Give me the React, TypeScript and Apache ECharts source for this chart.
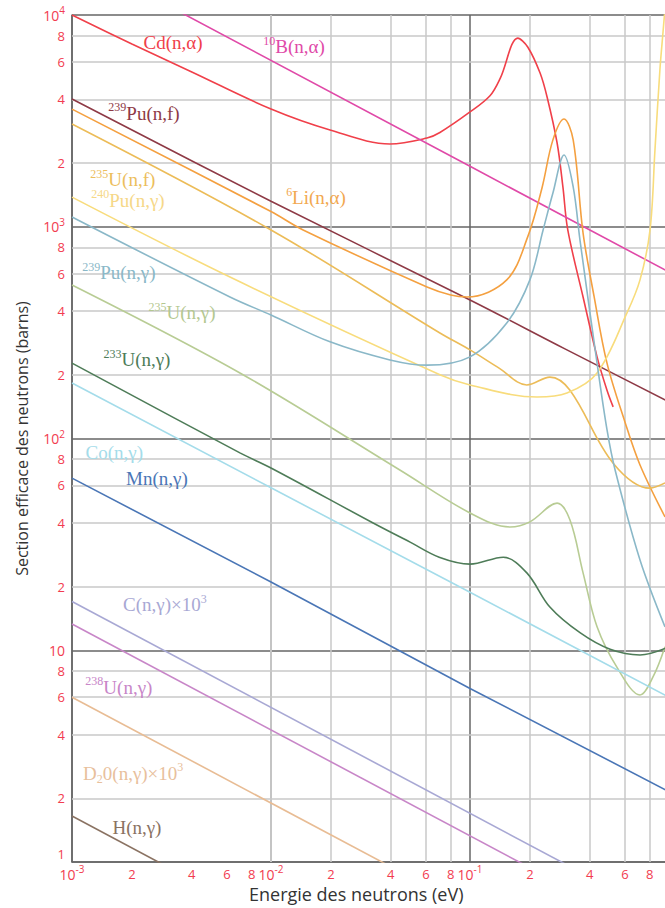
import React, { useEffect, useRef } from "react";
import * as echarts from "echarts";

// ---- axis ticks ----
const xTickValues = [0.001, 0.002, 0.004, 0.006, 0.008, 0.01, 0.02, 0.04, 0.06, 0.08, 0.1, 0.2, 0.4, 0.6, 0.8];
const yTickValues = [1, 2, 4, 6, 8, 10, 20, 40, 60, 80, 100, 200, 400, 600, 800, 1000, 2000, 4000, 6000, 8000, 10000];
const xMinorGrid = [0.002, 0.004, 0.006, 0.008, 0.02, 0.04, 0.06, 0.08, 0.2, 0.4, 0.6, 0.8];
const yMinorGrid = [2, 4, 6, 8, 20, 40, 60, 80, 200, 400, 600, 800, 2000, 4000, 6000, 8000];

// ---- curves: [energy (eV), cross-section (barns)] ----
const cdCurve = [
  [0.001, 10000], [0.002, 7300], [0.004, 5380], [0.01, 3597], [0.0198, 2864],
  [0.0396, 2461], [0.0608, 2624], [0.0706, 2786], [0.1, 3484], [0.126, 4155], [0.142, 5035],
  [0.174, 7780], [0.195, 7065], [0.225, 5320], [0.244, 4100], [0.274, 2486], [0.293, 1543],
  [0.31, 966], [0.37, 466], [0.435, 243], [0.488, 169], [0.524, 141],
];
const b10Curve = [[0.001, 19300], [0.1, 1930], [1, 611]];
const pu239fCurve = [[0.001, 4010], [0.01, 1320], [0.1, 451], [0.3, 265], [1, 149]];
const li6Curve = [
  [0.001, 3594], [0.01, 1180], [0.0145, 966], [0.0608, 519], [0.08, 476], [0.0966, 466],
  [0.153, 561], [0.195, 896], [0.23, 1525], [0.261, 2572], [0.297, 3230], [0.33, 2572],
  [0.37, 933], [0.42, 470], [0.488, 227], [0.6, 120], [0.715, 75], [0.955, 42.6],
];
const u235fCurve = [
  [0.001, 3055], [0.01, 966], [0.0706, 315], [0.1, 262], [0.14, 215], [0.193, 179],
  [0.252, 195], [0.318, 169], [0.524, 76.5], [0.803, 58.3], [0.955, 61.7],
];
const pu240gCurve = [
  [0.001, 1380], [0.00622, 579], [0.0706, 200], [0.1, 179], [0.217, 157], [0.307, 164],
  [0.435, 204], [0.615, 392], [0.715, 561], [0.803, 966], [0.85, 2300], [0.9, 5500],
  [0.935, 8500], [0.97, 13000], [1, 20000],
];
const pu239gCurve = [
  [0.001, 1112], [0.00622, 466], [0.01, 383], [0.0198, 286], [0.0396, 235], [0.0608, 222],
  [0.1, 243], [0.153, 351], [0.2, 561], [0.233, 966], [0.261, 1443], [0.297, 2183],
  [0.33, 1543], [0.357, 865], [0.435, 227], [0.488, 110], [0.536, 71], [0.715, 26.7], [0.955, 12.9],
];
const u235gCurve = [
  [0.001, 531], [0.00698, 204], [0.0444, 71], [0.1, 44.5], [0.159, 38.2],
  [0.2, 40.4], [0.274, 49.5], [0.318, 41.2], [0.37, 23.2], [0.435, 12.9], [0.548, 8.3],
  [0.715, 6.15], [0.832, 7.5], [0.955, 10.4],
];
const u233gCurve = [
  [0.001, 227], [0.00698, 85.5], [0.01, 72.6], [0.0326, 39.9], [0.05, 32.4], [0.07, 27.5],
  [0.1, 25.5], [0.147, 27.5], [0.193, 23.2], [0.252, 16.0], [0.357, 12.1], [0.506, 10.1],
  [0.715, 9.5], [0.955, 10.2],
];
const coCurve = [[0.001, 183], [0.01, 58.5], [0.1, 18.8], [1, 6.0]];
const mnCurve = [[0.001, 65], [0.01, 21], [0.1, 6.6], [1, 2.15]];
const cCurve = [[0.001, 17], [0.3, 0.98]];
const u238gCurve = [[0.001, 13.3], [0.2, 0.94]];
const d2oCurve = [[0.001, 6.0], [0.04, 0.95]];
const hCurve = [[0.001, 1.65], [0.01, 0.52]];

// ---- names, colours and in-plot labels ----
const seriesNames = [
  "Cd(n,α)", "10B(n,α)", "239Pu(n,f)", "6Li(n,α)", "235U(n,f)", "240Pu(n,γ)", "239Pu(n,γ)",
  "235U(n,γ)", "233U(n,γ)", "Co(n,γ)", "Mn(n,γ)", "C(n,γ)x10^3", "238U(n,γ)", "D2O(n,γ)x10^3", "H(n,γ)",
];
const seriesCurves = [
  cdCurve, b10Curve, pu239fCurve, li6Curve, u235fCurve, pu240gCurve, pu239gCurve,
  u235gCurve, u233gCurve, coCurve, mnCurve, cCurve, u238gCurve, d2oCurve, hCurve,
];
const seriesColors = [
  "#f0404a", "#e04aa8", "#8e3a46", "#f4a040", "#ecbc58", "#f8dc7c", "#8ab8c8",
  "#b8cc94", "#4e7c58", "#a4dcea", "#4a76b6", "#a8a8d4", "#c886c8", "#e8bc94", "#8a7262",
];
const labelTexts = [
  "Cd(n,α)", "^{10}B(n,α)", "^{239}Pu(n,f)", "^{6}Li(n,α)", "^{235}U(n,f)", "^{240}Pu(n,γ)",
  "^{239}Pu(n,γ)", "^{235}U(n,γ)", "^{233}U(n,γ)", "Co(n,γ)", "Mn(n,γ)", "C(n,γ)×10^{3}",
  "^{238}U(n,γ)", "D_{2}0(n,γ)×10^{3}", "H(n,γ)",
];
const labelAnchors = [
  [0.00322, 7380], [0.01306, 7065], [0.0023, 3440], [0.01683, 1368], [0.0018, 1663], [0.00191, 1337],
  [0.00172, 606], [0.00357, 392], [0.00212, 235], [0.00163, 86.3], [0.00267, 65], [0.00293, 16.4],
  [0.00172, 6.7], [0.00203, 2.63], [0.00212, 1.45],
];
const labelColors = [
  "#f0404a", "#e04aa8", "#8e3a46", "#f2a850", "#ecbe5c", "#f6d888", "#8ab8c8",
  "#b4c890", "#4e7c58", "#a4dcea", "#4a76b6", "#a8a8d4", "#c886c8", "#e8c09c", "#8a7262",
];

const xTitle = "Energie des neutrons (eV)";
const yTitle = "Section efficace des neutrons (barns)";

const RED = "#f23c50";
const SERIF = "Liberation Serif";

function toRich(s: string): string {
  let out = "";
  let buf = "";
  let i = 0;
  while (i < s.length) {
    if ((s[i] === "^" || s[i] === "_") && s[i + 1] === "{") {
      if (buf) { out += `{t|${buf}}`; buf = ""; }
      const end = s.indexOf("}", i);
      out += `{${s[i] === "^" ? "p" : "b"}|${s.slice(i + 2, end)}}`;
      i = end + 1;
    } else {
      buf += s[i];
      i++;
    }
  }
  if (buf) out += `{t|${buf}}`;
  return out;
}

function tickFormatter(v: number): string {
  const e = Math.log10(v);
  const r = Math.round(e);
  if (Math.abs(e - r) < 1e-6) {
    if (r === 0) return "{low|1}";
    if (r === 1) return "{d|10}";
    return `{d|10}{s|${r}}`;
  }
  const mant = Math.round(v / Math.pow(10, Math.floor(e)));
  return `{m|${mant}}`;
}

const tickRich = {
  d: { fontSize: 14, color: RED, fontFamily: "Open Sans", lineHeight: 18 },
  s: { fontSize: 10, color: RED, fontFamily: "Open Sans", lineHeight: 8, padding: [0, 0, 10, 0] },
  m: { fontSize: 13, color: RED, fontFamily: "Open Sans", lineHeight: 18 },
  low: { fontSize: 13, color: RED, fontFamily: "Open Sans", lineHeight: 12, padding: [0, 0, 16, 0] },
};

export default function App() {
  const ref = useRef<HTMLDivElement>(null);
  useEffect(() => {
    if (!ref.current) return;
    const chart = echarts.init(ref.current, undefined, { renderer: "svg" });

    const curveSeries = seriesCurves.map((curve, i) => {
      const color = seriesColors[i];
      const lc = labelColors[i];
      return {
        type: "line",
        name: seriesNames[i],
        data: curve,
        smooth: curve.length > 4 ? 0.35 : false,
        showSymbol: false,
        symbol: "none",
        z: 3,
        lineStyle: { color, width: 1.6 },
        itemStyle: { color },
        silent: true,
        markPoint: {
          silent: true,
          symbol: "circle",
          symbolSize: 0,
          itemStyle: { color: "rgba(0,0,0,0)" },
          label: {
            show: true,
            position: "inside",
            color: lc,
            fontFamily: SERIF,
            formatter: toRich(labelTexts[i]),
            rich: {
              t: { fontSize: 19, fontFamily: SERIF, color: lc, lineHeight: 22 },
              p: { fontSize: 12, fontFamily: SERIF, color: lc, lineHeight: 10, padding: [0, 0, 12, 0] },
              b: { fontSize: 12, fontFamily: SERIF, color: lc, lineHeight: 10, padding: [12, 0, 0, 0] },
            },
          },
          data: [{ coord: labelAnchors[i] }],
        },
      };
    });

    const gridSeries = {
      type: "line",
      name: "grid",
      data: [],
      silent: true,
      z: 1,
      markLine: {
        silent: true,
        z: 1,
        symbol: ["none", "none"],
        label: { show: false },
        lineStyle: { color: "#c9c9c9", width: 1.5, type: "solid" },
        emphasis: { disabled: true },
        data: [
          ...xMinorGrid.map((v) => ({ xAxis: v })),
          ...yMinorGrid.map((v) => ({ yAxis: v })),
        ],
      },
    };

    chart.setOption({
      animation: false,
      backgroundColor: "#ffffff",
      grid: { left: 72, top: 15, width: 597, height: 847, containLabel: false, outerBoundsMode: "none" },
      graphic: [
        {
          type: "text",
          x: 249,
          y: 894,
          style: {
            text: xTitle,
            fontSize: 18,
            fill: "#333333",
            fontFamily: "Open Sans",
            align: "left",
            verticalAlign: "middle",
          },
        },
      ],
      xAxis: {
        type: "log",
        logBase: 10,
        min: 0.001,
        max: 1,
        axisLine: { show: true, lineStyle: { color: "#666666", width: 1.5 } },
        axisTick: { show: false },
        splitLine: { show: true, lineStyle: { color: "#666666", width: 1.5 } },
        axisLabel: {
          customValues: xTickValues,
          margin: 3,
          color: RED,
          fontFamily: "Open Sans",
          formatter: (v: number) => tickFormatter(v),
          rich: tickRich,
        },
      },
      yAxis: {
        type: "log",
        logBase: 10,
        min: 1,
        max: 10000,
        name: yTitle,
        nameLocation: "middle",
        nameGap: 42,
        nameTextStyle: { fontSize: 16, color: "#333333", fontFamily: "Open Sans" },
        axisLine: { show: true, lineStyle: { color: "#666666", width: 1.5 } },
        axisTick: { show: false },
        splitLine: { show: true, lineStyle: { color: "#666666", width: 1.5 } },
        axisLabel: {
          customValues: yTickValues,
          margin: 7,
          color: RED,
          fontFamily: "Open Sans",
          formatter: (v: number) => tickFormatter(v),
          rich: tickRich,
        },
      },
      series: [gridSeries, ...curveSeries],
    });
    return () => chart.dispose();
  }, []);

  return (
    <div
      ref={ref}
      style={{ position: "absolute", left: 0, top: 0, width: 665, height: 908, background: "#fff" }}
    />
  );
}
